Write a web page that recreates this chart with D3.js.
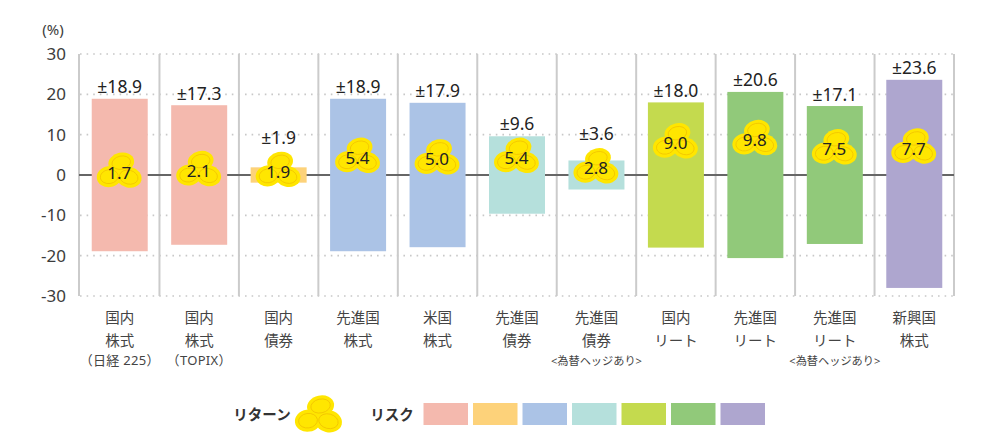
<!DOCTYPE html>
<html lang="ja"><head><meta charset="utf-8">
<script src="https://cdn.jsdelivr.net/npm/d3@7/dist/d3.min.js"></script>
<style>
html,body{margin:0;padding:0;background:#fff}
svg{display:block}
text{font-family:"Noto Sans","Noto Sans CJK JP",sans-serif}
</style></head><body>
<svg id="c" width="1006" height="444"></svg>
<script>
const labelLine1 = ["国内","国内","国内","先進国","米国","先進国","先進国","国内","先進国","先進国","新興国"];
const labelLine2 = ["株式","株式","債券","株式","株式","債券","債券","リート","リート","リート","株式"];
const labelLine3 = ["（日経 225）","（TOPIX）","","","","","<為替ヘッジあり>","","","<為替ヘッジあり>",""];
const categoryIds = d3.range(11);
const riskLabels = ["±18.9","±17.3","±1.9","±18.9","±17.9","±9.6","±3.6","±18.0","±20.6","±17.1","±23.6"];
const riskUpper = [18.9,17.3,1.9,18.9,17.9,9.6,3.6,18.0,20.6,17.1,23.6];
const riskLower = [-18.9,-17.3,-1.9,-18.9,-17.9,-9.6,-3.6,-18.0,-20.6,-17.1,-28.0];
const returns = [1.7,2.1,1.9,5.4,5.0,5.4,2.8,9.0,9.8,7.5,7.7];
const barColors = ["#f4b9ae","#f4b9ae","#fdd27a","#abc3e6","#abc3e6","#b5e0dc","#b5e0dc","#c4da4e","#91c97a","#91c97a","#aea6cf"];
const legendColors = ["#f4b9ae","#fdd27a","#abc3e6","#b5e0dc","#c4da4e","#91c97a","#aea6cf"];
const yTicks = [30,20,10,0,-10,-20,-30];

const svg = d3.select("#c");
const y = d3.scaleLinear().domain([-30,30]).range([296,54]);
const x = d3.scaleBand().domain(categoryIds).range([80,954]);
const left = x.range()[0], right = x.range()[1];

svg.append("g").selectAll("line").data(yTicks.filter(d=>d!==0)).join("line")
  .attr("x1",left).attr("x2",right).attr("y1",d=>y(d)).attr("y2",d=>y(d))
  .attr("stroke","#c8c8c8").attr("stroke-width",1.6).attr("stroke-dasharray","1.6 5");
svg.append("g").selectAll("line").data(d3.range(12)).join("line")
  .attr("x1",i=>left-(i===0?1:0)+i*x.step()).attr("x2",i=>left-(i===0?1:0)+i*x.step()).attr("y1",y(30)).attr("y2",y(-30))
  .attr("stroke","#cbcbcb").attr("stroke-width",2);
svg.append("line").attr("x1",left-1).attr("x2",right).attr("y1",y(0)).attr("y2",y(0))
  .attr("stroke","#666").attr("stroke-width",2);
const barW = 56;
svg.append("g").selectAll("rect").data(categoryIds).join("rect")
  .attr("x",i=>x(i)+x.bandwidth()/2-barW/2).attr("width",barW)
  .attr("y",i=>y(riskUpper[i])).attr("height",i=>y(riskLower[i])-y(riskUpper[i]))
  .attr("fill",i=>barColors[i]);
svg.append("g").selectAll("text").data(yTicks).join("text")
  .attr("x",66).attr("y",d=>y(d)).attr("dy","0.36em").attr("text-anchor","end")
  .attr("font-size",17).attr("fill","#3c3c3c").text(d=>d);
svg.append("text").attr("x",53).attr("y",35).attr("text-anchor","middle")
  .attr("font-size",15).attr("fill","#3c3c3c").text("(%)");

function coin(g,cx,cy,s){
  const c = g.append("g").attr("transform",`translate(${cx},${cy}) scale(${s})`);
  const parts = [[1.5,-10,13,10,-12],[-10.5,4,12.5,10.5,-8],[9,4.5,13,10.5,14]];
  c.append("ellipse").attr("cx",0).attr("cy",0).attr("rx",12).attr("ry",10).attr("fill","#ffe600");
  parts.forEach(p=>{
    c.append("ellipse").attr("rx",p[2]).attr("ry",p[3]).attr("fill","#ffe600")
      .attr("transform",`translate(${p[0]},${p[1]}) rotate(${p[4]})`);
  });
  parts.forEach(p=>{
    c.append("ellipse").attr("rx",p[2]*0.72).attr("ry",p[3]*0.66)
      .attr("fill","none").attr("stroke","#f2c400").attr("stroke-width",0.8)
      .attr("transform",`translate(${p[0]},${p[1]}) rotate(${p[4]})`);
  });
}
const retOffset = 4.5;
const coins = svg.append("g");
categoryIds.forEach(i=>coin(coins,x(i)+x.bandwidth()/2,y(returns[i])+retOffset,1));
svg.append("g").selectAll("text").data(categoryIds).join("text")
  .attr("x",i=>x(i)+x.bandwidth()/2-0.5).attr("y",i=>y(returns[i])+retOffset).attr("dy","0.36em")
  .attr("text-anchor","middle").attr("font-size",17).attr("fill","#222")
  .text(i=>returns[i].toFixed(1));
svg.append("g").selectAll("text").data(categoryIds).join("text")
  .attr("x",i=>x(i)+x.bandwidth()/2).attr("y",i=>Math.min(y(riskUpper[i])-5.5,y(returns[i])+retOffset-28))
  .attr("text-anchor","middle").attr("font-size",17.5).attr("fill","#222")
  .text(i=>riskLabels[i]);
const cat = svg.append("g").attr("text-anchor","middle").attr("fill","#444");
categoryIds.forEach(i=>{
  const cx = x(i)+x.bandwidth()/2;
  cat.append("text").attr("x",cx).attr("y",323).attr("font-size",14.5).text(labelLine1[i]);
  cat.append("text").attr("x",cx).attr("y",346).attr("font-size",14.5).text(labelLine2[i]);
  if(labelLine3[i]) {
    const wide = labelLine3[i][0]==="（";
    cat.append("text").attr("x",cx).attr("y",365)
      .attr("font-size",wide?13:11.2).attr("letter-spacing",wide?0.3:0).text(labelLine3[i]);
  }
});
svg.append("text").attr("x",262).attr("y",420).attr("text-anchor","middle").attr("font-size",14.5)
  .attr("font-weight",700).attr("fill","#333").text("リターン");
coin(svg,319,416.5,1.05);
svg.append("text").attr("x",392).attr("y",420).attr("text-anchor","middle").attr("font-size",14.5)
  .attr("font-weight",700).attr("fill","#333").text("リスク");
svg.append("g").selectAll("rect").data(legendColors).join("rect")
  .attr("x",(d,i)=>423.5+i*49.5).attr("y",403).attr("width",44.5).attr("height",22)
  .attr("fill",d=>d);
</script></body></html>
